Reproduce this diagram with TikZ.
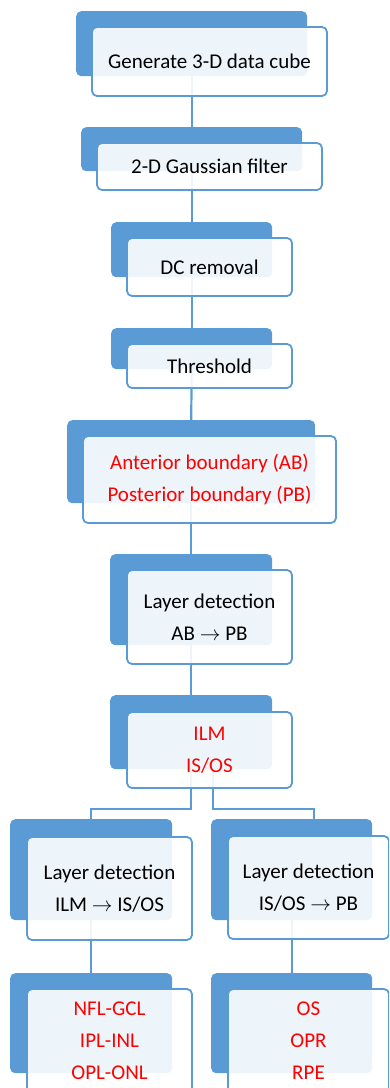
\documentclass[tikz,border=0pt]{standalone}
\usepackage{fontspec}
\setmainfont{Carlito}
\definecolor{accent}{HTML}{5B9BD5}
\definecolor{hl}{HTML}{FF0000}
\newcommand\arr{$\rightarrow$}
\tikzset{
  backbox/.style={fill=accent, rounded corners=5pt, inner sep=0pt, anchor=north west},
  frontbox/.style={draw=accent, line width=1.8pt, fill=white, fill opacity=0.9, text opacity=1,
    rounded corners=5pt, inner sep=0pt, anchor=center, align=center,
    font=\fontsize{21}{32}\selectfont},
  conn/.style={draw=accent, line width=2.2pt},
  hot/.style={text=hl}
}
% back panel: name, x1, y1, x2, y2
\newcommand\backpanel[5]{%
  \node[backbox, minimum width={(#4-#2)*1pt}, minimum height={(#5-#3)*1pt}] (#1) at (#2,#3) {};}
% front panel with its text: name, x1, y1, x2, y2, style, text
\newcommand\frontpanel[7]{%
  \node[frontbox, #6, minimum width={(#4-#2)*1pt}, minimum height={(#5-#3)*1pt}] (#1) at ({(#2+#4)/2},{(#3+#5)/2}) {#7};}
\begin{document}
\begin{tikzpicture}[x=1pt,y=-1pt]
\useasboundingbox (0,0) rectangle (389,1088);
\clip (0,0) rectangle (389,1088);

% back panels
\backpanel{b1}{76}{11}{307}{76}
\backpanel{b2}{81}{127}{302}{171}
\backpanel{b3}{111}{222}{272}{277}
\backpanel{b4}{111}{328}{272}{369}
\backpanel{b5}{67}{420}{315}{503}
\backpanel{b6}{110}{554}{272}{645}
\backpanel{b7}{110}{695}{272}{769}
\backpanel{b8l}{10}{819}{172}{920}
\backpanel{b8r}{211}{819}{372}{920}
\backpanel{b9l}{10}{973}{172}{1073}
\backpanel{b9r}{211}{973}{372}{1073}

% connectors
\draw[conn] (b1.south) -- (b2.north);
\draw[conn] (b2.south) -- (b3.north);
\draw[conn] (b3.south) -- (b4.north);
\draw[conn] (b4.south) -- (b5.north);
\draw[conn] (b5.south) -- (b6.north);
\draw[conn] (b6.south) -- (b7.north);
\coordinate (bar) at (0,809);
\draw[conn] (b7.south) -- (b7.south |- bar) -| (b8l.north);
\draw[conn] ([xshift=22pt]b7.south) -- ([xshift=22pt]b7.south |- bar) -| ([xshift=22pt]b8r.north);
\draw[conn] (b8l.south) -- (b9l.north);
\draw[conn] (b8r.south) -- (b9r.north);

% front panels
\frontpanel{f1}{92}{27}{327}{96}{}{Generate 3-D data cube}
\frontpanel{f2}{97}{143}{322}{190}{}{2-D Gaussian filter}
\frontpanel{f3}{127}{238}{292}{296}{}{DC removal}
\frontpanel{f4}{127}{344}{292}{388}{}{Threshold}
\frontpanel{f5}{83}{436}{336}{523}{hot}{Anterior boundary (AB)\\Posterior boundary (PB)}
\frontpanel{f6}{127}{570}{292}{664}{}{Layer detection\\AB \arr\ PB}
\frontpanel{f7}{127}{712}{292}{788}{hot}{ILM\\IS/OS}
\frontpanel{f8l}{27}{837}{192}{940}{}{Layer detection\\ILM \arr\ IS/OS}
\frontpanel{f8r}{228}{836}{389}{939}{}{Layer detection\\IS/OS \arr\ PB}
\frontpanel{f9l}{27}{989}{192}{1093}{hot}{NFL-GCL\\IPL-INL\\OPL-ONL}
\frontpanel{f9r}{228}{989}{389}{1093}{hot}{OS\\OPR\\RPE}
\end{tikzpicture}
\end{document}
